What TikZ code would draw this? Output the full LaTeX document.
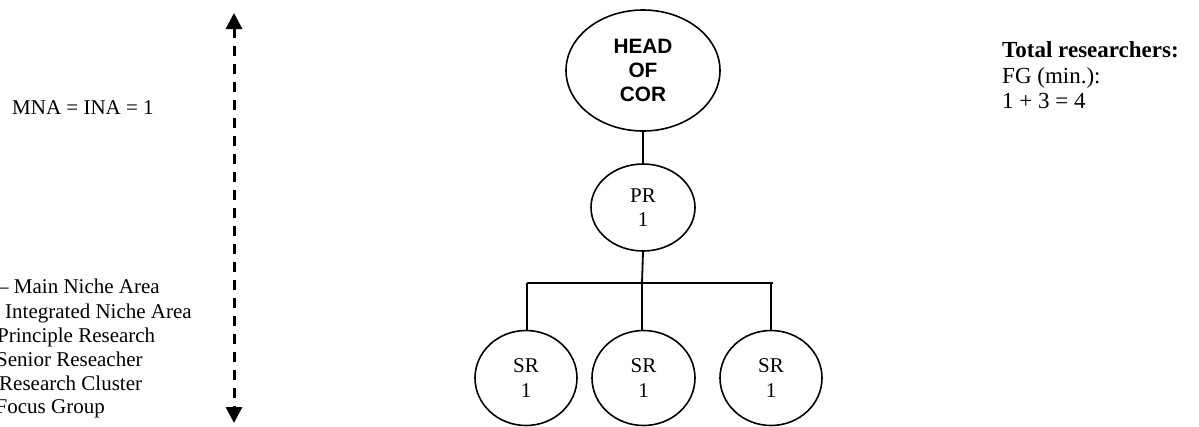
\documentclass[tikz,border=0pt]{standalone}
\usepackage{fontspec}
\setmainfont{Liberation Serif}
\setsansfont{Liberation Sans}
\usetikzlibrary{arrows.meta,shapes.geometric}
\begin{document}
\begin{tikzpicture}[x=1pt,y=-1pt,
  conn/.style={line width=1.8pt},
  oval/.style={ellipse,draw,line width=1.6pt,inner sep=0pt,align=center},
  lbl/.style={anchor=base west,inner sep=0pt,font=\fontsize{21}{24}\selectfont},
  rtxt/.style={anchor=base west,inner sep=0pt,font=\fontsize{23}{25.5}\selectfont},
  num/.style={font=\fontsize{21}{24.5}\selectfont}]
\useasboundingbox (0,0) rectangle (1199,426);
% scale arrow
\coordinate (atop) at (234,13);
\coordinate (abot) at (234,423);
\draw[line width=3pt,dash pattern=on 9.5pt off 8.5pt,
  {Triangle[width=16pt,length=16pt]}-{Triangle[width=16pt,length=16pt]}] (atop) -- (abot);
% left texts
\node[lbl] (mna) at (12,114.5) {MNA = INA = 1};
\node[lbl] (l1) at (-2,293) {– Main Niche Area};
\node[lbl] (l2) at (5,318) {Integrated Niche Area};
\node[lbl] (l3) at (-3,342) {Principle Research};
\node[lbl] (l4) at (-4,366) {Senior Reseacher};
\node[lbl] (l5) at (-1,390) {Research Cluster};
\node[lbl] (l6) at (-4.5,413) {Focus Group};
% right texts
\node[rtxt] (t1) at (1002,57) {\textbf{Total researchers:}};
\node[rtxt] (t2) at (1002,83) {FG (min.):};
\node[rtxt] (t3) at (1002,108) {1 + 3 = 4};
% tree
\node[oval,minimum width=154pt,minimum height=121pt,
  font=\sffamily\bfseries\fontsize{20.8}{24}\selectfont] (head) at (643,70.5) {HEAD\\OF\\COR};
\node[oval,minimum width=104pt,minimum height=87pt,num] (pr) at (643,207.5) {PR\\1};
\node[oval,minimum width=102pt,minimum height=95pt,num] (sr1) at (526,378) {SR\\1};
\node[oval,minimum width=103pt,minimum height=95pt,num] (sr2) at (643.5,378) {SR\\1};
\node[oval,minimum width=102pt,minimum height=95pt,num] (sr3) at (771,378) {SR\\1};
\coordinate (bl) at (527,283);
\coordinate (bm) at (642,283);
\coordinate (br) at (773,283);
\draw[conn] (head.south) -- (pr.north);
\draw[conn] (pr.south) -- (bm);
\draw[conn] (bl) -- (br);
\draw[conn] (bl) -- (bl |- sr1.north);
\draw[conn] (bm) -- (bm |- sr2.north);
\draw[conn] (771,283) -- (sr3.north);
\end{tikzpicture}
\end{document}
